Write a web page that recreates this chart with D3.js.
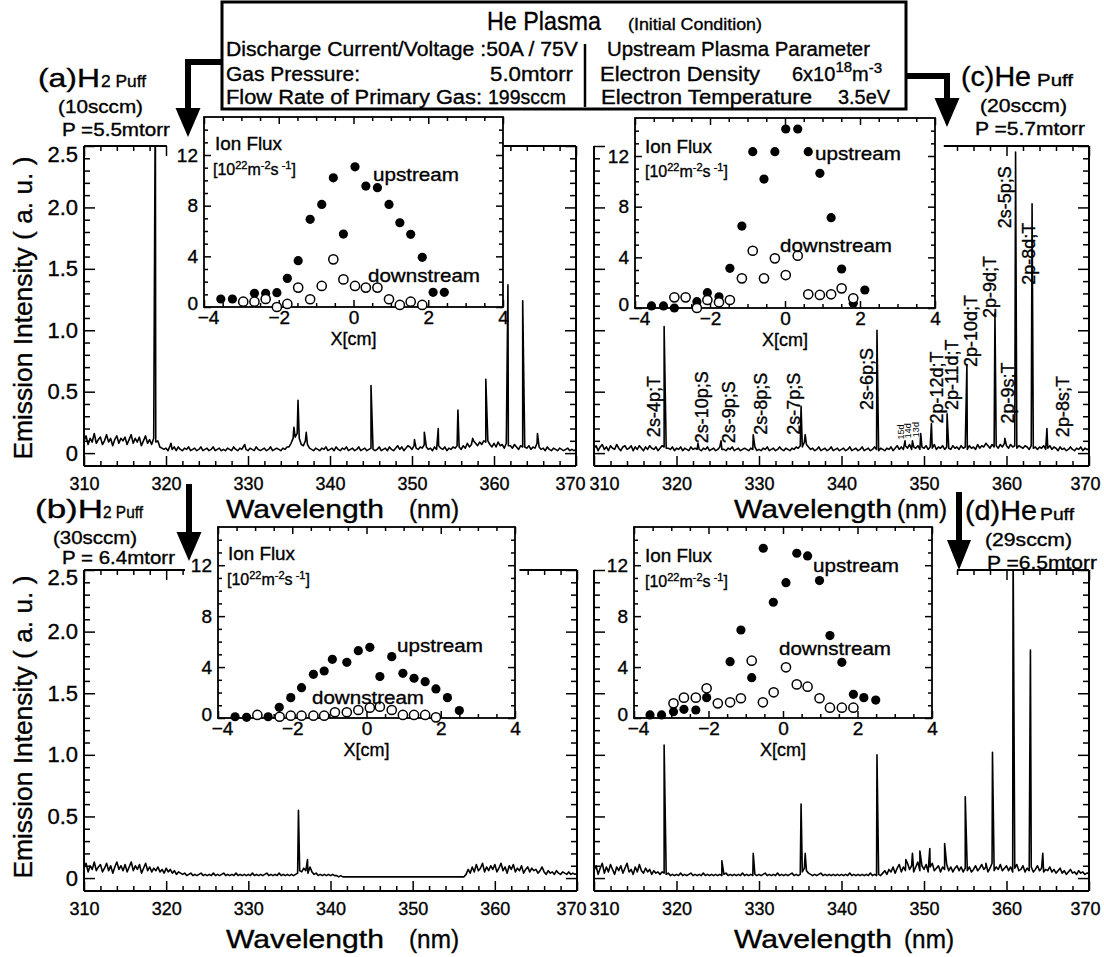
<!DOCTYPE html>
<html>
<head>
<meta charset="utf-8">
<script src="https://cdn.jsdelivr.net/npm/d3@7/dist/d3.min.js"></script>
<style>
  html,body{margin:0;padding:0;background:#fff;}
  svg{display:block;}
  text{font-family:"Liberation Sans",Arial,Helvetica,sans-serif;fill:#000;stroke:#000;stroke-width:0.35px;}
  text.fine{stroke-width:0;}
</style>
</head>
<body>
<svg id="fig" width="1104" height="957"></svg>
<script>
// ---------------- shared axis values ----------------
const wlStart = 310, wlStep = 0.25;           // spectra sampled every 0.25 nm
const wlTicks = [310, 320, 330, 340, 350, 360, 370];
const intensityTicks = [0, 0.5, 1.0, 1.5, 2.0, 2.5];
const posTicks = [-4, -2, 0, 2, 4];
const fluxTicks = [0, 4, 8, 12];

// ---------------- (a) H2 puff 10 sccm ----------------
const specA = [
  0.10,0.14,0.07,0.12,0.09,0.16,0.08,0.11,0.13,0.07,0.10,0.15,0.09,0.12,0.06,0.11,0.14,0.08,0.12,0.10,
  0.13,0.07,0.11,0.15,0.08,0.12,0.09,0.13,0.06,0.10,0.14,0.08,0.11,0.07,0.12,0.09,0.10,0.05,0.04,0.03,
  0.04,0.02,0.06,0.03,0.05,0.02,0.05,0.03,0.02,0.04,0.03,0.05,0.02,0.03,0.04,0.02,0.03,0.05,0.02,0.03,
  0.04,0.02,0.03,0.05,0.02,0.03,0.04,0.02,0.03,0.02,0.04,0.03,0.02,0.05,0.03,0.02,0.04,0.03,0.06,0.03,
  0.02,0.04,0.03,0.02,0.05,0.03,0.02,0.03,0.04,0.02,0.03,0.05,0.02,0.03,0.04,0.03,0.02,0.04,0.03,0.05,
  0.05,0.08,0.12,0.13,0.16,0.12,0.07,0.06,0.10,0.07,0.04,0.03,0.02,0.04,0.03,0.02,0.04,0.03,0.05,0.02,
  0.03,0.04,0.02,0.05,0.03,0.02,0.04,0.03,0.05,0.02,0.03,0.04,0.02,0.03,0.05,0.02,0.03,0.04,0.02,0.03,
  0.04,0.03,0.02,0.03,0.05,0.02,0.03,0.04,0.02,0.05,0.03,0.02,0.04,0.06,0.03,0.05,0.02,0.04,0.06,0.05,
  0.03,0.06,0.04,0.03,0.05,0.04,0.07,0.05,0.03,0.04,0.02,0.05,0.03,0.06,0.04,0.03,0.05,0.02,0.04,0.03,
  0.05,0.04,0.06,0.05,0.03,0.06,0.04,0.08,0.05,0.07,0.10,0.08,0.06,0.09,0.07,0.10,0.09,0.10,0.07,0.05,
  0.08,0.05,0.09,0.06,0.07,0.04,0.08,0.06,0.06,0.04,0.07,0.05,0.03,0.06,0.05,0.05,0.04,0.06,0.03,0.05,
  0.04,0.08,0.05,0.03,0.04,0.02,0.05,0.03,0.02,0.04,0.03,0.02,0.04,0.03,0.02,0.03,0.04,0.02,0.03,0.02,
  0.03
];
const linesA = [[318.7,3.0],[320.6,0.08],[329.6,0.07],[335.6,0.21],[336.1,0.43],[337.1,0.17],[345.0,0.55],
  [350.3,0.11],[351.5,0.17],[353.2,0.20],[355.6,0.35],[357.4,0.12],[359.0,0.60],[361.7,1.37],[363.5,1.24],[365.3,0.16]];

// ---------------- (b) H2 puff 30 sccm ----------------
const specB = [
  0.08,0.12,0.05,0.10,0.07,0.13,0.06,0.09,0.11,0.05,0.08,0.12,0.06,0.10,0.04,0.09,0.13,0.07,0.10,0.06,
  0.11,0.05,0.09,0.13,0.06,0.10,0.07,0.11,0.04,0.08,0.12,0.06,0.09,0.05,0.08,0.06,0.09,0.05,0.07,0.04,
  0.08,0.05,0.07,0.04,0.06,0.03,0.05,0.04,0.03,0.04,0.02,0.03,0.04,0.02,0.03,0.02,0.03,0.04,0.02,0.03,
  0.02,0.03,0.02,0.04,0.02,0.03,0.02,0.03,0.04,0.02,0.03,0.02,0.03,0.02,0.04,0.02,0.03,0.02,0.03,0.02,
  0.03,0.02,0.04,0.02,0.03,0.02,0.03,0.02,0.03,0.04,0.02,0.03,0.02,0.03,0.02,0.04,0.02,0.03,0.02,0.03,
  0.02,0.03,0.02,0.03,0.04,0.06,0.05,0.08,0.06,0.04,0.09,0.05,0.03,0.04,0.02,0.03,0.02,0.03,0.02,0.03,
  0.02,0.03,0.02,0.02,0.01,0.02,0.01,0.01,0.01,0.01,0.01,0.01,0.01,0.01,0.01,0.01,0.01,0.01,0.01,0.01,
  0.01,0.01,0.01,0.01,0.01,0.01,0.01,0.01,0.01,0.01,0.01,0.01,0.01,0.01,0.01,0.01,0.01,0.01,0.01,0.01,
  0.01,0.01,0.01,0.01,0.01,0.01,0.01,0.01,0.01,0.01,0.01,0.01,0.01,0.01,0.01,0.01,0.01,0.01,0.01,0.01,
  0.01,0.01,0.01,0.01,0.01,0.01,0.03,0.07,0.04,0.09,0.05,0.11,0.06,0.08,0.12,0.05,0.09,0.06,0.10,0.07,
  0.11,0.05,0.08,0.12,0.06,0.09,0.04,0.10,0.07,0.11,0.05,0.08,0.06,0.10,0.04,0.07,0.09,0.05,0.08,0.06,
  0.07,0.04,0.06,0.09,0.05,0.03,0.06,0.04,0.05,0.03,0.06,0.04,0.03,0.05,0.04,0.03,0.05,0.03,0.04,0.03,
  0.04
];
const linesB = [[336.1,0.55],[337.2,0.15]];

// ---------------- (c) He puff 20 sccm ----------------
const specC = [
  0.04,0.06,0.02,0.05,0.07,0.03,0.05,0.02,0.06,0.04,0.03,0.07,0.04,0.02,0.05,0.06,0.03,0.04,0.06,0.02,
  0.05,0.03,0.06,0.04,0.02,0.05,0.03,0.06,0.04,0.03,0.05,0.02,0.04,0.06,0.05,0.04,0.04,0.03,0.05,0.02,
  0.04,0.03,0.05,0.02,0.04,0.03,0.02,0.05,0.03,0.04,0.03,0.03,0.02,0.04,0.03,0.05,0.02,0.03,0.04,0.02,
  0.03,0.05,0.03,0.03,0.02,0.04,0.03,0.05,0.02,0.03,0.04,0.02,0.03,0.04,0.03,0.02,0.04,0.03,0.05,0.02,
  0.03,0.02,0.04,0.03,0.05,0.02,0.03,0.04,0.02,0.03,0.05,0.03,0.02,0.04,0.03,0.02,0.04,0.03,0.05,0.04,
  0.06,0.05,0.09,0.07,0.05,0.03,0.04,0.02,0.03,0.05,0.02,0.03,0.04,0.02,0.03,0.05,0.02,0.03,0.04,0.02,
  0.03,0.04,0.02,0.03,0.05,0.02,0.03,0.04,0.02,0.03,0.05,0.02,0.03,0.04,0.02,0.03,0.05,0.03,0.02,0.04,
  0.03,0.02,0.04,0.03,0.05,0.02,0.04,0.06,0.03,0.05,0.03,0.06,0.04,0.07,0.03,0.05,0.04,0.06,0.03,0.05,
  0.04,0.06,0.03,0.05,0.04,0.07,0.03,0.05,0.04,0.06,0.03,0.05,0.04,0.03,0.06,0.04,0.05,0.03,0.06,0.04,
  0.05,0.03,0.06,0.04,0.05,0.03,0.07,0.04,0.06,0.05,0.08,0.06,0.04,0.07,0.05,0.06,0.04,0.07,0.05,0.08,
  0.06,0.04,0.07,0.05,0.06,0.04,0.06,0.05,0.04,0.06,0.05,0.03,0.06,0.04,0.05,0.03,0.05,0.04,0.06,0.03,
  0.04,0.06,0.03,0.05,0.04,0.02,0.05,0.03,0.04,0.02,0.03,0.05,0.03,0.02,0.04,0.03,0.05,0.02,0.04,0.03,
  0.03
];
const linesC = [[318.5,1.03],[322.6,0.08],[325.4,0.10],[329.3,0.15],[335.1,0.38],[335.6,0.15],[344.3,1.00],
  [347.7,0.10],[348.6,0.10],[349.6,0.16],[350.9,0.24],[352.8,0.32],[355.2,0.72],[358.6,1.14],[359.8,0.12],
  [361.1,2.45],[363.1,2.03],[364.9,0.20]];
const lineNamesC = ["2s-4p;T","2s-10p;S","2s-9p;S","2s-8p;S","2s-7p;S","2s-6p;S","15d","14d","13d",
  "2p-12d;T","2p-11d;T","2p-10d;T","2p-9d;T","2p-9s;T","2s-5p;S","2p-8d;T","2p-8s;T"];

// ---------------- (d) He puff 29 sccm ----------------
const specD = [
  0.06,0.10,0.03,0.08,0.12,0.04,0.09,0.05,0.11,0.07,0.03,0.09,0.06,0.10,0.04,0.08,0.12,0.05,0.07,0.03,
  0.09,0.05,0.11,0.06,0.04,0.08,0.05,0.07,0.03,0.06,0.04,0.05,0.03,0.05,0.04,0.03,0.04,0.02,0.03,0.02,
  0.03,0.02,0.04,0.02,0.03,0.02,0.03,0.04,0.02,0.03,0.02,0.03,0.02,0.04,0.02,0.03,0.02,0.03,0.02,0.03,
  0.02,0.03,0.02,0.03,0.04,0.02,0.03,0.02,0.03,0.02,0.03,0.02,0.04,0.02,0.03,0.02,0.03,0.02,0.03,0.02,
  0.03,0.02,0.03,0.04,0.02,0.03,0.02,0.03,0.02,0.04,0.02,0.03,0.02,0.03,0.02,0.03,0.04,0.02,0.03,0.02,
  0.03,0.05,0.08,0.06,0.04,0.03,0.02,0.03,0.02,0.03,0.04,0.02,0.03,0.02,0.03,0.02,0.03,0.02,0.03,0.02,
  0.03,0.02,0.03,0.02,0.04,0.02,0.03,0.02,0.03,0.02,0.03,0.02,0.03,0.02,0.04,0.02,0.03,0.02,0.03,0.02,
  0.04,0.06,0.03,0.07,0.05,0.09,0.04,0.08,0.11,0.05,0.09,0.06,0.12,0.07,0.10,0.05,0.09,0.13,0.06,0.10,
  0.07,0.11,0.05,0.09,0.12,0.06,0.08,0.10,0.05,0.09,0.07,0.11,0.06,0.09,0.05,0.08,0.10,0.06,0.09,0.05,
  0.08,0.06,0.09,0.05,0.07,0.10,0.06,0.08,0.11,0.07,0.09,0.05,0.08,0.12,0.06,0.09,0.07,0.11,0.06,0.08,
  0.10,0.06,0.09,0.05,0.08,0.11,0.06,0.07,0.10,0.05,0.08,0.06,0.09,0.05,0.07,0.10,0.06,0.08,0.05,0.07,
  0.06,0.09,0.05,0.07,0.04,0.06,0.08,0.04,0.06,0.03,0.05,0.07,0.04,0.05,0.03,0.06,0.04,0.05,0.03,0.04,
  0.04
];
const linesD = [[318.5,1.08],[325.5,0.14],[329.3,0.20],[335.1,0.60],[335.6,0.20],[344.3,1.00],[347.8,0.15],
  [348.6,0.20],[349.5,0.22],[350.7,0.24],[352.5,0.28],[355.0,0.66],[357.5,0.12],[358.3,1.02],[360.8,2.70],
  [362.9,1.85],[364.4,0.20]];

// ---------------- radial ion-flux profiles (10^22 m^-2 s^-1) ----------------
const posUpA    = [-3.55,-3.24,-2.65,-2.35,-2.05,-1.77,-1.48,-1.16,-0.85,-0.54,-0.27,0.04,0.33,0.64,0.95,1.24,1.53,1.84,2.13,2.43];
const fluxUpA   = [0.63,0.63,1.08,1.08,1.13,2.26,3.66,6.92,8.10,10.20,5.76,11.07,9.55,9.42,8.10,6.65,5.74,3.92,1.16,1.16];
const posDownA  = [-2.95,-2.65,-2.35,-2.05,-1.77,-1.48,-1.16,-0.85,-0.54,-0.27,0.04,0.33,0.64,0.95,1.24,1.53,1.84];
const fluxDownA = [0.42,0.42,0.63,0.00,0.24,1.53,0.61,1.66,3.76,2.18,1.66,1.53,1.53,0.61,0.16,0.42,0.16];

const posUpB    = [-3.54,-3.23,-2.65,-2.35,-2.04,-1.75,-1.43,-1.14,-0.92,-0.53,-0.22,0.09,0.36,0.68,0.98,1.28,1.58,1.87,2.18,2.50];
const fluxUpB   = [0.10,0.05,0.10,0.84,1.60,2.38,3.43,3.69,4.61,4.37,5.29,5.55,3.25,4.82,3.51,3.12,2.85,2.28,1.60,0.58];
const posDownB  = [-2.94,-2.34,-2.04,-1.75,-1.43,-1.14,-0.85,-0.53,-0.22,0.09,0.36,0.68,0.98,1.28,1.58,1.87];
const fluxDownB = [0.24,0.10,0.18,0.18,0.18,0.18,0.45,0.45,0.63,0.81,0.89,0.63,0.24,0.24,0.24,0.05];

const posUpC    = [-3.56,-3.24,-2.95,-2.35,-2.07,-1.76,-1.47,-1.15,-0.86,-0.56,-0.27,0.02,0.34,0.62,0.93,1.23,1.51,1.82,2.13];
const fluxUpC   = [0.16,0.16,0.00,0.50,1.21,0.89,3.13,6.47,12.34,10.18,12.34,14.13,14.13,12.34,10.63,7.13,3.08,0.37,1.42];
const posDownC  = [-2.95,-2.65,-2.35,-2.07,-1.76,-1.47,-1.15,-0.86,-0.56,-0.27,0.02,0.34,0.62,0.93,1.23,1.51,1.82];
const fluxDownC = [0.84,0.84,0.00,0.63,0.45,0.63,2.34,4.52,2.34,3.92,2.60,4.13,1.08,1.03,1.08,1.55,0.76];

const posUpD    = [-3.57,-3.26,-2.94,-2.66,-2.34,-2.05,-1.42,-1.13,-0.84,-0.53,-0.26,0.08,0.37,0.66,0.98,1.26,1.58,1.89,2.17,2.49];
const fluxUpD   = [0.24,0.24,0.50,0.68,0.63,1.60,4.42,6.91,3.17,13.33,9.09,10.63,12.94,12.73,10.79,6.47,4.37,1.86,1.60,1.41];
const posDownD  = [-2.94,-2.66,-2.34,-2.05,-1.75,-1.42,-1.13,-0.84,-0.54,-0.25,0.08,0.37,0.66,0.98,1.26,1.58,1.89];
const fluxDownD = [1.15,1.60,1.60,2.33,1.15,1.23,1.55,4.50,1.23,2.02,3.98,2.64,2.46,1.55,0.81,0.81,0.81];

// ================= drawing =================
const INK = "#000";
const svg = d3.select("#fig");

function txt(parent, str, x, y, size, opts = {}) {
  const t = parent.append("text").attr("x", x).attr("y", y).style("font-size", size + "px").text(str);
  if (opts.len) t.attr("textLength", opts.len).attr("lengthAdjust", "spacingAndGlyphs");
  if (opts.anchor) t.attr("text-anchor", opts.anchor);
  return t;
}

function axisTicks(g, axisFn, scale, values, size, transform, fmt, pad, fontSize) {
  const a = axisFn(scale).tickValues(values).tickSize(size).tickPadding(pad || 3).tickFormat(fmt || (() => ""));
  const sel = g.append("g").attr("transform", transform).call(a);
  sel.attr("font-family", null).attr("font-size", null);
  sel.select(".domain").remove();
  sel.selectAll("line").attr("stroke", INK).attr("stroke-width", 1.5);
  sel.selectAll("text").attr("fill", INK).style("font-size", (fontSize || 18) + "px");
  return sel;
}

// spectrum panels
const panelLayout = [
  { spec: specA, lines: linesA, x0: 84,  x1: 576,  top: 146, bot: 466, yLabels: true,  runs: [[310, 320.1], [361.2, 370]], topLabelDy: 8, firstDx: 0,  lastDx: -6 },
  { spec: specC, lines: linesC, x0: 594, x1: 1089, top: 146, bot: 466, yLabels: false, runs: [[352.4, 370]],               topLabelDy: 0, firstDx: 10, lastDx: -4 },
  { spec: specB, lines: linesB, x0: 84,  x1: 577,  top: 570, bot: 891, yLabels: true,  runs: [[310, 322.3], [363.0, 370]], topLabelDy: 7, firstDx: 0,  lastDx: -6 },
  { spec: specD, lines: linesD, x0: 594, x1: 1089, top: 570, bot: 891, yLabels: false, runs: [[354.0, 370]],               topLabelDy: 0, firstDx: 10, lastDx: -4 }
];

const scalesOut = [];
panelLayout.forEach((p, i) => {
  const g = svg.append("g");
  const x = d3.scaleLinear().domain([310, 370]).range([p.x0, p.x1]);
  const y = d3.scaleLinear().domain([-0.105, 2.5]).range([p.bot, p.top]);
  scalesOut.push({ x, y });

  const cid = "plotclip" + i;
  g.append("clipPath").attr("id", cid).append("rect")
    .attr("x", p.x0).attr("y", p.top).attr("width", p.x1 - p.x0).attr("height", p.bot - p.top);

  const pts = p.spec.map((v, k) => [wlStart + k * wlStep, v]).concat(p.lines).sort((a, b) => a[0] - b[0]);
  g.append("path").datum(pts).attr("clip-path", `url(#${cid})`)
    .attr("fill", "none").attr("stroke", INK).attr("stroke-width", 1.6).attr("stroke-linejoin", "round")
    .attr("d", d3.line().x(d => x(d[0])).y(d => y(d[1])));

  // frame
  const frame = g.append("g").attr("stroke", INK).attr("stroke-width", 2).attr("fill", "none");
  frame.append("line").attr("x1", p.x0).attr("x2", p.x0).attr("y1", p.top).attr("y2", p.bot);
  frame.append("line").attr("x1", p.x1).attr("x2", p.x1).attr("y1", p.top).attr("y2", p.bot);
  frame.append("line").attr("x1", p.x0).attr("x2", p.x1).attr("y1", p.bot).attr("y2", p.bot);
  p.runs.forEach(r => frame.append("line").attr("x1", x(r[0])).attr("x2", x(r[1])).attr("y1", p.top).attr("y2", p.top));

  const minorWl = d3.range(311, 370).filter(v => v % 2 === 0 && v % 10 !== 0);
  const inRuns = v => p.runs.some(r => v >= r[0] && v <= r[1]);
  const minorI = d3.range(-1, 26).filter(k => k % 5 !== 0).map(k => k / 10);

  axisTicks(g, d3.axisBottom, x, minorWl, -5, `translate(0,${p.bot})`);
  const xl = axisTicks(g, d3.axisBottom, x, wlTicks, -10, `translate(0,${p.bot})`, d3.format("d"), 11, 18);
  xl.selectAll("text").attr("x", d => d === 310 ? p.firstDx : d === 370 ? p.lastDx : 0);
  axisTicks(g, d3.axisTop, x, minorWl.filter(inRuns), -5, `translate(0,${p.top})`);
  axisTicks(g, d3.axisTop, x, wlTicks.filter(inRuns), -10, `translate(0,${p.top})`);

  axisTicks(g, d3.axisLeft, y, minorI, -6, `translate(${p.x0},0)`);
  const yl = axisTicks(g, d3.axisLeft, y, intensityTicks, -11, `translate(${p.x0},0)`,
    p.yLabels ? (d => d === 0 ? "0" : d3.format(".1f")(d)) : null, 6, 22);
  yl.selectAll("text").attr("dy", d => d === 2.5 ? (0.32 * 22 + p.topLabelDy) + "px" : "0.32em");
  axisTicks(g, d3.axisRight, y, minorI, -6, `translate(${p.x1},0)`);
  axisTicks(g, d3.axisRight, y, intensityTicks, -11, `translate(${p.x1},0)`);
});

// spectral line identifications in panel (c)
(function () {
  const { x, y } = scalesOut[1];
  const tagWl   = [317.26,323.06,326.32,330.19,334.18,343.01,347.24,348.09,349.06,351.48,353.29,355.59,358.0,360.18,359.7,362.72,366.83];
  const tagFoot = [0.13,0.08,0.08,0.15,0.15,0.35,0.11,0.12,0.13,0.24,0.35,0.70,1.10,0.24,1.83,1.37,0.13];
  const g = svg.append("g");
  lineNamesC.forEach((name, i) => {
    const small = name.length <= 3;
    const fs = small ? 9 : 18;
    const cx = x(tagWl[i]) + fs * 0.36, cy = y(tagFoot[i]);
    g.append("text").attr("class", small ? "fine" : null)
      .attr("transform", `translate(${cx},${cy}) rotate(-90)`)
      .style("font-size", fs + "px").text(name);
  });
})();

// ion-flux insets
const insetLayout = [
  { x0: 204, x1: 503, top: 117, bot: 307, up: [posUpA, fluxUpA], down: [posDownA, fluxDownA],
    ion: [215, 150], unit: [213, 175], upLab: [373, 181], downLab: [368, 282] },
  { x0: 635, x1: 935, top: 118, bot: 308, up: [posUpC, fluxUpC], down: [posDownC, fluxDownC],
    ion: [645, 153], unit: [645, 177], upLab: [815, 160], downLab: [780, 252] },
  { x0: 218, x1: 515, top: 527, bot: 718, up: [posUpB, fluxUpB], down: [posDownB, fluxDownB],
    ion: [228, 560], unit: [227, 585], upLab: [397, 652], downLab: [312, 704] },
  { x0: 634, x1: 932, top: 527, bot: 718, up: [posUpD, fluxUpD], down: [posDownD, fluxDownD],
    ion: [645, 562], unit: [645, 587], upLab: [813, 572], downLab: [779, 655] }
];

insetLayout.forEach(s => {
  const g = svg.append("g");
  const x = d3.scaleLinear().domain([-4, 4]).range([s.x0, s.x1]);
  const y = d3.scaleLinear().domain([0, 15]).range([s.bot, s.top]);
  g.append("rect").attr("x", s.x0).attr("y", s.top).attr("width", s.x1 - s.x0).attr("height", s.bot - s.top)
    .attr("fill", "#fff").attr("stroke", INK).attr("stroke-width", 1.8);

  const minorP = d3.range(-7, 8).filter(k => k % 4 !== 0).map(k => k / 2);
  const minorF = d3.range(1, 15).filter(k => k % 4 !== 0);
  axisTicks(g, d3.axisBottom, x, minorP, -4, `translate(0,${s.bot})`);
  const px = axisTicks(g, d3.axisBottom, x, posTicks, -7, `translate(0,${s.bot})`, d3.format("d"), 3, 19);
  px.selectAll("text").attr("x", d => d === -4 ? 4 : 0);
  axisTicks(g, d3.axisTop, x, minorP, -4, `translate(0,${s.top})`);
  axisTicks(g, d3.axisTop, x, posTicks, -7, `translate(0,${s.top})`);
  axisTicks(g, d3.axisLeft, y, minorF, -4, `translate(${s.x0},0)`);
  const py = axisTicks(g, d3.axisLeft, y, fluxTicks, -7, `translate(${s.x0},0)`, d3.format("d"), 6, 19);
  py.selectAll("text").attr("y", d => d === 0 ? -4 : 0);
  axisTicks(g, d3.axisRight, y, minorF, -4, `translate(${s.x1},0)`);
  axisTicks(g, d3.axisRight, y, fluxTicks, -7, `translate(${s.x1},0)`);

  const r = 4.6;
  g.append("g").selectAll("circle").data(d3.zip(s.up[0], s.up[1])).join("circle")
    .attr("cx", d => x(d[0])).attr("cy", d => y(d[1])).attr("r", r).attr("fill", INK);
  g.append("g").selectAll("circle").data(d3.zip(s.down[0], s.down[1])).join("circle")
    .attr("cx", d => x(d[0])).attr("cy", d => y(d[1])).attr("r", r)
    .attr("fill", "#fff").attr("stroke", INK).attr("stroke-width", 1.5);

  txt(g, "Ion Flux", s.ion[0], s.ion[1], 18, { len: 67 });
  const u = g.append("text").attr("x", s.unit[0]).attr("y", s.unit[1]).style("font-size", "16px");
  u.append("tspan").text("[10");
  u.append("tspan").attr("dy", -6).style("font-size", "11px").text("22");
  u.append("tspan").attr("dy", 6).text("m");
  u.append("tspan").attr("dy", -6).style("font-size", "11px").text("-2");
  u.append("tspan").attr("dy", 6).text("s");
  u.append("tspan").attr("dy", -6).style("font-size", "11px").text(" -1");
  u.append("tspan").attr("dy", 6).text("]");
  txt(g, "upstream", s.upLab[0], s.upLab[1], 19, { len: 86 });
  txt(g, "downstream", s.downLab[0], s.downLab[1], 19, { len: 112 });
  txt(g, "X[cm]", (s.x0 + s.x1) / 2, s.bot + 38, 18, { anchor: "middle" });
});

// axis titles
const titles = svg.append("g");
[308, 727].forEach(cy => {
  titles.append("text").attr("transform", `translate(32,${cy}) rotate(-90)`)
    .attr("text-anchor", "middle").attr("textLength", 303).attr("lengthAdjust", "spacingAndGlyphs")
    .style("font-size", "25px").text("Emission Intensity ( a. u. )");
});
// [x of "Wavelength", x of "(nm)", baseline]
[[226, 409, 518], [734, 897, 518], [226, 409, 948], [734, 904, 948]].forEach(([xw, xn, yb]) => {
  txt(titles, "Wavelength", xw, yb, 26, { len: 158 });
  txt(titles, "(nm)", xn, yb, 26, { len: 50 });
});

// panel captions
function caption(x, yb, head, headLen, tail, tailX, tailLen, rate, rateX, rateLen, pressure, pX, pLen, headSize, pDy) {
  const g = svg.append("g");
  txt(g, head, x, yb, headSize, { len: headLen });
  txt(g, tail, tailX, yb, 17, { len: tailLen });
  txt(g, rate, rateX, yb + 26, 18, { len: rateLen });
  txt(g, pressure, pX, yb + (pDy || 49), 18, { len: pLen });
}
caption(38, 87, "(a)H", 62, "2 Puff", 101, 45, "(10sccm)", 58, 85, "P =5.5mtorr", 62, 108, 25);
caption(961, 86, "(c)He", 70, "Puff", 1037, 36, "(20sccm)", 980, 87, "P =5.7mtorr", 975, 110, 27);
caption(35, 518, "(b)H", 68, "2 Puff", 103, 40, "(30sccm)", 53, 84, "P = 6.4mtorr", 62, 113, 25, 46);
caption(965, 520, "(d)He", 72, "Puff", 1040, 34, "(29sccm)", 985, 87, "P =6.5mtorr", 987, 110, 27);

// discharge-condition box
const box = svg.append("g");
box.append("rect").attr("x", 222).attr("y", 2).attr("width", 684).attr("height", 107)
  .attr("fill", "#fff").attr("stroke", INK).attr("stroke-width", 3);
box.append("line").attr("x1", 585).attr("x2", 585).attr("y1", 44).attr("y2", 107).attr("stroke", INK).attr("stroke-width", 2.5);
txt(box, "He Plasma", 487, 30, 25, { len: 114 });
txt(box, "(Initial Condition)", 628, 30, 17, { len: 134 });
txt(box, "Discharge Current/Voltage :50A / 75V", 226, 56, 20, { len: 352 });
txt(box, "Upstream Plasma Parameter", 607, 56, 20, { len: 263 });
txt(box, "Gas Pressure:", 226, 81, 20, { len: 134 });
txt(box, "5.0mtorr", 490, 81, 20, { len: 83 });
txt(box, "Electron Density", 600, 81, 20, { len: 160 });
const dens = box.append("text").attr("x", 792).attr("y", 81).style("font-size", "20px");
dens.append("tspan").text("6x10");
dens.append("tspan").attr("dy", -9).style("font-size", "15px").text("18");
dens.append("tspan").attr("dy", 9).text("m");
dens.append("tspan").attr("dy", -8).style("font-size", "15px").text("-3");
txt(box, "Flow Rate of Primary Gas:", 226, 104, 20, { len: 256 });
txt(box, "199sccm", 488, 104, 20, { len: 78 });
txt(box, "Electron Temperature", 601, 104, 20, { len: 211 });
txt(box, "3.5eV", 838, 104, 20, { len: 52 });

// arrows from the condition box to each panel
const arrows = svg.append("g").attr("fill", INK).attr("stroke", INK);
function arrow(stem, tipX, tipY, headH, headW) {
  arrows.append("path").attr("d", stem).attr("fill", "none").attr("stroke-width", 6);
  arrows.append("path").attr("stroke", "none")
    .attr("d", `M${tipX - headW / 2},${tipY - headH} L${tipX + headW / 2},${tipY - headH} L${tipX},${tipY} Z`);
}
arrow("M222,62 H188 V110", 188, 137, 29, 25);
arrow("M906,76 H947 V100", 947, 127, 29, 25);
arrow("M189,484 V534", 189, 561, 29, 25);
arrow("M959,492 V542", 959, 570, 30, 24);
</script>
</body>
</html>
